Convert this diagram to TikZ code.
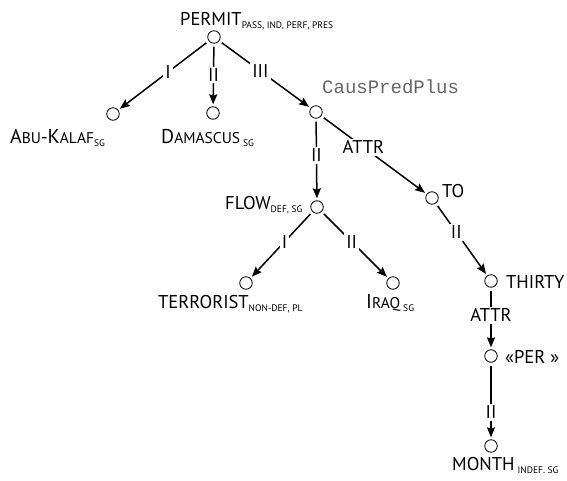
\documentclass[tikz,border=0pt]{standalone}
\usepackage{fontspec}
\setmainfont{PT Sans}
\setmonofont{Liberation Mono}
\usetikzlibrary{arrows.meta}

% grammemes as lowered small subscripts
\newcommand{\gram}[1]{\raisebox{-3pt}{\fontsize{9.5}{9.5}\selectfont #1}}
% small-capital pieces of proper names
\newcommand{\capl}[1]{{\fontsize{20}{20}\selectfont #1}}
\newcommand{\scl}[1]{{\fontsize{15.5}{15.5}\selectfont #1}}

\begin{document}
\begin{tikzpicture}[x=1pt,y=-1pt,
  vtx/.style={circle,draw,line width=0.8pt,minimum size=12.5pt,inner sep=0pt},
  dep/.style={line width=1.5pt,-{Stealth[length=10pt,width=8pt,inset=1.5pt]},
              shorten <=3pt,shorten >=2pt},
  rel/.style={fill=white,inner sep=2pt,font=\fontsize{18.5}{18.5}\selectfont},
  lex/.style={font=\fontsize{18.5}{18.5}\selectfont,inner sep=0pt,anchor=base west},
  sem/.style={font=\ttfamily\fontsize{19}{19}\selectfont,text=black!60,
              inner sep=0pt,anchor=base west}]
\useasboundingbox (0,0) rectangle (567,481);

% vertices
\node[vtx] (permit) at (214,37)  {};
\node[vtx] (abu)    at (113,114) {};
\node[vtx] (dam)    at (213,113) {};
\node[vtx] (caus)   at (316,112) {};
\node[vtx] (flow)   at (317,207) {};
\node[vtx] (to)     at (432,198) {};
\node[vtx] (terr)   at (246,283) {};
\node[vtx] (iraq)   at (393,283) {};
\node[vtx] (thirty) at (491,281) {};
\node[vtx] (per)    at (491,356) {};
\node[vtx] (month)  at (491,446) {};

% lexical labels
\node[lex] (lpermit) at (180,26)  {PERMIT\gram{PASS, IND, PERF, PRES}};
\node[lex] (labu)    at (10,144)  {\capl{A}\scl{BU}-\capl{K}\scl{ALAF}\gram{SG}};
\node[lex] (ldam)    at (161,144) {\capl{D}\scl{AMASCUS}\,\gram{SG}};
\node[sem] (lcaus)   at (322,94)  {CausPredPlus};
\node[lex] (lflow)   at (225,209) {FLOW\gram{DEF, SG}};
\node[lex] (lto)     at (442,197) {TO};
\node[lex] (lterr)   at (158,308) {TERRORIST\gram{NON-DEF, PL}};
\node[lex] (liraq)   at (366,308) {\capl{I}\scl{RAQ}\,\gram{SG}};
\node[lex] (lthirty) at (506,288) {THIRTY};
\node[lex] (lper)    at (505,363) {«PER »};
\node[lex] (lmonth)  at (452,470) {MONTH\,\gram{INDEF. SG}};

% dependencies
\draw[dep] (permit) -- node[rel,pos=0.45] {I} (abu);
\draw[dep] (permit) -- node[rel,pos=0.5] {II} (dam);
\draw[dep] (permit) -- node[rel,pos=0.45] {III} (caus);
\draw[dep] (caus) -- node[rel,pos=0.45] {II} (flow);
\draw[dep] (caus) -- node[rel,pos=0.4] {ATTR} (to);
\draw[dep] (flow) -- node[rel,pos=0.45] {I} (terr);
\draw[dep] (flow) -- node[rel,pos=0.45] {II} (iraq);
\draw[dep] (to) -- node[rel,pos=0.4] {II} (thirty);
\draw[dep] (thirty) -- node[rel,pos=0.45] {ATTR} (per);
\draw[dep] (per) -- node[rel,pos=0.65] {II} (month);
\end{tikzpicture}
\end{document}
